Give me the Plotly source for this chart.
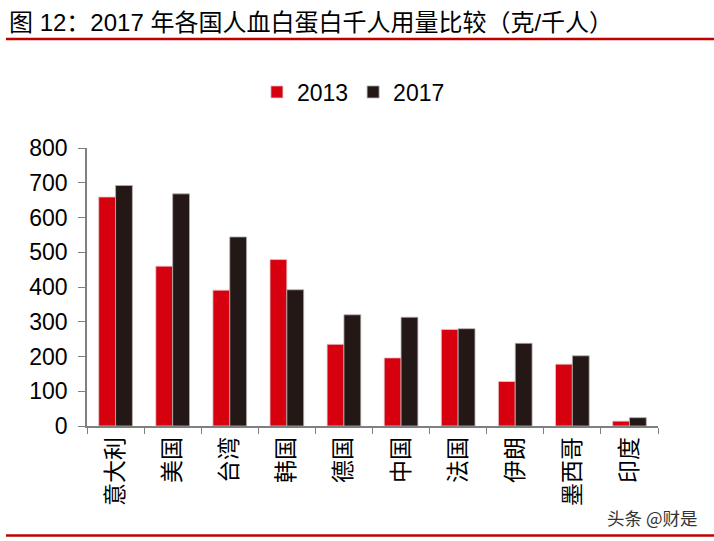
import plotly.graph_objects as go

countries = ["意大利", "美国", "台湾", "韩国", "德国", "中国", "法国", "伊朗", "墨西哥", "印度"]
v2013 = [659, 460, 391, 479, 235, 196, 278, 128, 178, 14]
v2017 = [692, 668, 544, 392, 320, 313, 280, 238, 202, 24]
yticks = [0, 100, 200, 300, 400, 500, 600, 700, 800]

FONT = "Liberation Sans, Arial, Noto Sans CJK SC"
W, H = 714, 541
L, R, T, B = 87, 56, 148, 115
PW, PH = W - L - R, H - T - B


def px_x(x):
    return (x - L) / PW


def px_y(y):
    return (H - B - y) / PH


fig = go.Figure()
fig.add_trace(go.Bar(x=countries, y=v2013, name="2013",
                     marker=dict(color="#D7000F", line=dict(color="#E0C8C8", width=0.8))))
fig.add_trace(go.Bar(x=countries, y=v2017, name="2017",
                     marker=dict(color="#231815", line=dict(color="#B8B0B0", width=0.8))))

fig.update_layout(
    width=W, height=H,
    margin=dict(l=L, r=R, t=T, b=B, autoexpand=False),
    paper_bgcolor="white", plot_bgcolor="white",
    barmode="group", bargap=0.41, bargroupgap=0,
    font=dict(family=FONT, color="black"),
    showlegend=True,
    legend=dict(orientation="h", xref="container", yref="container",
                x=0.495, xanchor="center", y=1 - 92 / H, yanchor="middle",
                font=dict(size=23, family=FONT), itemwidth=30,
                traceorder="normal", bgcolor="rgba(0,0,0,0)"),
    xaxis=dict(type="category", automargin=False, showline=True, linecolor="#808080", linewidth=1.5,
               ticks="outside", tickson="boundaries", ticklen=6, tickcolor="#808080",
               tickangle=-90, tickfont=dict(size=23, family="Noto Sans CJK SC"),
               showgrid=False),
    yaxis=dict(range=[0, 800], automargin=False, tickvals=yticks, showline=True, linecolor="#808080",
               linewidth=1.5, ticks="outside", ticklen=7, tickcolor="#808080",
               ticklabelstandoff=6,
               tickfont=dict(size=23, family=FONT), showgrid=False, zeroline=False),
    shapes=[
        dict(type="line", xref="paper", yref="paper", x0=px_x(6), x1=px_x(714),
             y0=px_y(39), y1=px_y(39), line=dict(color="#C00000", width=2.5)),
        dict(type="line", xref="paper", yref="paper", x0=px_x(6), x1=px_x(714),
             y0=px_y(535.5), y1=px_y(535.5), line=dict(color="#C00000", width=2.5)),
    ],
    annotations=[
        dict(text="图 12：2017 年各国人血白蛋白千人用量比较（克/千人）", xref="paper", yref="paper",
             x=px_x(7), y=px_y(23), xanchor="left", yanchor="middle", showarrow=False,
             font=dict(size=24, family=FONT, color="black")),
        dict(text="头条 @财是", xref="paper", yref="paper",
             x=px_x(699), y=px_y(517), xanchor="right", yanchor="middle", showarrow=False,
             font=dict(size=17.5, family="Noto Sans CJK SC", color="#333333")),
    ],
)

fig.write_html("out.html", config={"displayModeBar": False},
               post_script="document.body.style.margin='0';document.body.style.overflow='hidden';")
